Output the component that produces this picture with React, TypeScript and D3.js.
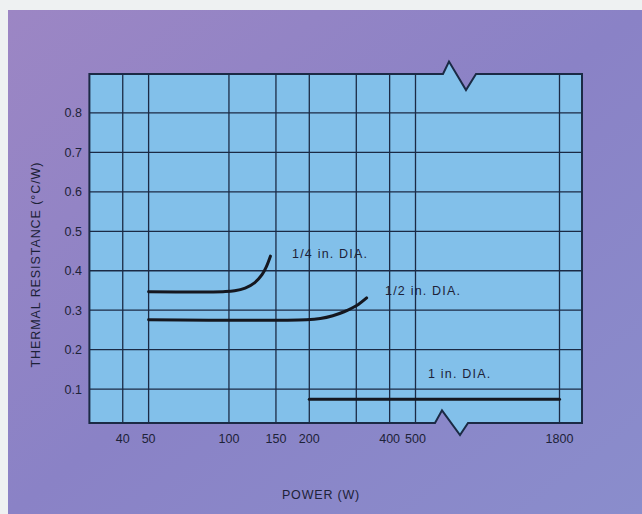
import React from "react";
import * as d3 from "d3";

const yTicks = [0.1, 0.2, 0.3, 0.4, 0.5, 0.6, 0.7, 0.8];
const xGridValues = [40, 50, 100, 150, 200, 300, 400, 500, 1800];
const xTickLabels = [40, 50, 100, 150, 200, 400, 500, 1800];

const quarterX = [50, 95, 105, 115, 125, 133, 138, 143];
const quarterY = [0.347, 0.347, 0.349, 0.356, 0.37, 0.39, 0.41, 0.437];
const halfX = [50, 195, 220, 245, 270, 300, 328];
const halfY = [0.276, 0.276, 0.279, 0.286, 0.296, 0.311, 0.331];
const oneX = [200, 1800];
const oneY = [0.074, 0.074];

const seriesLabels = ["1/4 in. DIA.", "1/2 in. DIA.", "1 in. DIA."];

const W = 642;
const H = 514;
const left = 89.4;
const right = 582;
const top = 74;
const bottom = 423;

const xLow = d3.scaleLog().domain([30, 500]).range([left, 415.5]);
const xHigh = d3.scaleLog().domain([1800, 2181]).range([559.5, right]);
const x = (v: number) => (v <= 600 ? xLow(v) : xHigh(v));
const y = d3.scaleLinear().domain([0.014, 0.9]).range([bottom, 73.5]);

const ink = "#1b2a45";
const textInk = "#1d2238";
const font = "Liberation Sans, Arial, sans-serif";

export default function App() {
  const line = d3
    .line<[number, number]>()
    .x((d) => x(d[0]))
    .y((d) => y(d[1]))
    .curve(d3.curveCatmullRom.alpha(0.5));

  const q = quarterX.map((v, i) => [v, quarterY[i]] as [number, number]);
  const h = halfX.map((v, i) => [v, halfY[i]] as [number, number]);
  const o = oneX.map((v, i) => [v, oneY[i]] as [number, number]);

  // plot outline with axis-break zigzags
  const tb = 443;
  const bb = 435;
  const outline = [
    `M${left},${top}`,
    `L${tb},${top}`,
    `L${tb + 6},${top - 12.5}`,
    `L${tb + 23},${top + 16}`,
    `L${tb + 33},${top}`,
    `L${right},${top}`,
    `L${right},${bottom}`,
    `L${bb + 33},${bottom}`,
    `L${bb + 25},${bottom + 12}`,
    `L${bb + 7},${bottom - 12.7}`,
    `L${bb},${bottom}`,
    `L${left},${bottom}`,
    "Z",
  ].join(" ");

  return (
    <svg
      width={W}
      height={H}
      style={{ position: "absolute", left: 0, top: 0 }}
      fontFamily={font}
    >
      <defs>
        <linearGradient id="bg" x1="0" y1="0" x2="1" y2="1">
          <stop offset="0" stopColor="#9c86c4" />
          <stop offset="0.5" stopColor="#8a82c6" />
          <stop offset="1" stopColor="#8a8dcc" />
        </linearGradient>
        <clipPath id="plotClip">
          <path d={outline} />
        </clipPath>
      </defs>
      <rect x={0} y={0} width={W} height={H} fill="#eef1f2" />
      <rect x={8} y={10} width={W - 8} height={H - 10} fill="url(#bg)" />

      <path d={outline} fill="#82c0ea" />

      <g clipPath="url(#plotClip)">
        {yTicks.map((t) => (
          <line
            key={"h" + t}
            x1={left}
            x2={right}
            y1={y(t)}
            y2={y(t)}
            stroke={ink}
            strokeWidth={1.3}
          />
        ))}
        {xGridValues.map((v) => (
          <line
            key={"v" + v}
            x1={x(v)}
            x2={x(v)}
            y1={top}
            y2={bottom}
            stroke={ink}
            strokeWidth={1.3}
          />
        ))}
      </g>

      <path d={outline} fill="none" stroke={ink} strokeWidth={2} strokeLinejoin="miter" />

      {[q, h, o].map((d, i) => (
        <path
          key={"s" + i}
          d={line(d) || ""}
          fill="none"
          stroke="#15171f"
          strokeWidth={3}
          strokeLinecap="round"
        />
      ))}

      <text x={292} y={258} fontSize={12.5} letterSpacing={1.2} fill={textInk}>
        {seriesLabels[0]}
      </text>
      <text x={385} y={295} fontSize={12.5} letterSpacing={1.2} fill={textInk}>
        {seriesLabels[1]}
      </text>
      <text x={428} y={378} fontSize={12.5} letterSpacing={1.2} fill={textInk}>
        {seriesLabels[2]}
      </text>

      {yTicks.map((t) => (
        <text
          key={"yl" + t}
          x={82}
          y={y(t) + 4.5}
          fontSize={12.5}
          textAnchor="end"
          fill={textInk}
        >
          {t.toFixed(1)}
        </text>
      ))}

      {xTickLabels.map((v) => (
        <text
          key={"xl" + v}
          x={x(v)}
          y={443}
          fontSize={12.5}
          textAnchor="middle"
          fill={textInk}
        >
          {v}
        </text>
      ))}

      <text
        x={321}
        y={499}
        fontSize={12.5}
        textAnchor="middle"
        letterSpacing={0.8}
        fill={textInk}
      >
        POWER (W)
      </text>

      <text
        transform={`translate(40,265) rotate(-90)`}
        fontSize={12.5}
        textAnchor="middle"
        textLength={205}
        lengthAdjust="spacing"
        fill={textInk}
      >
        THERMAL RESISTANCE (°C/W)
      </text>
    </svg>
  );
}
